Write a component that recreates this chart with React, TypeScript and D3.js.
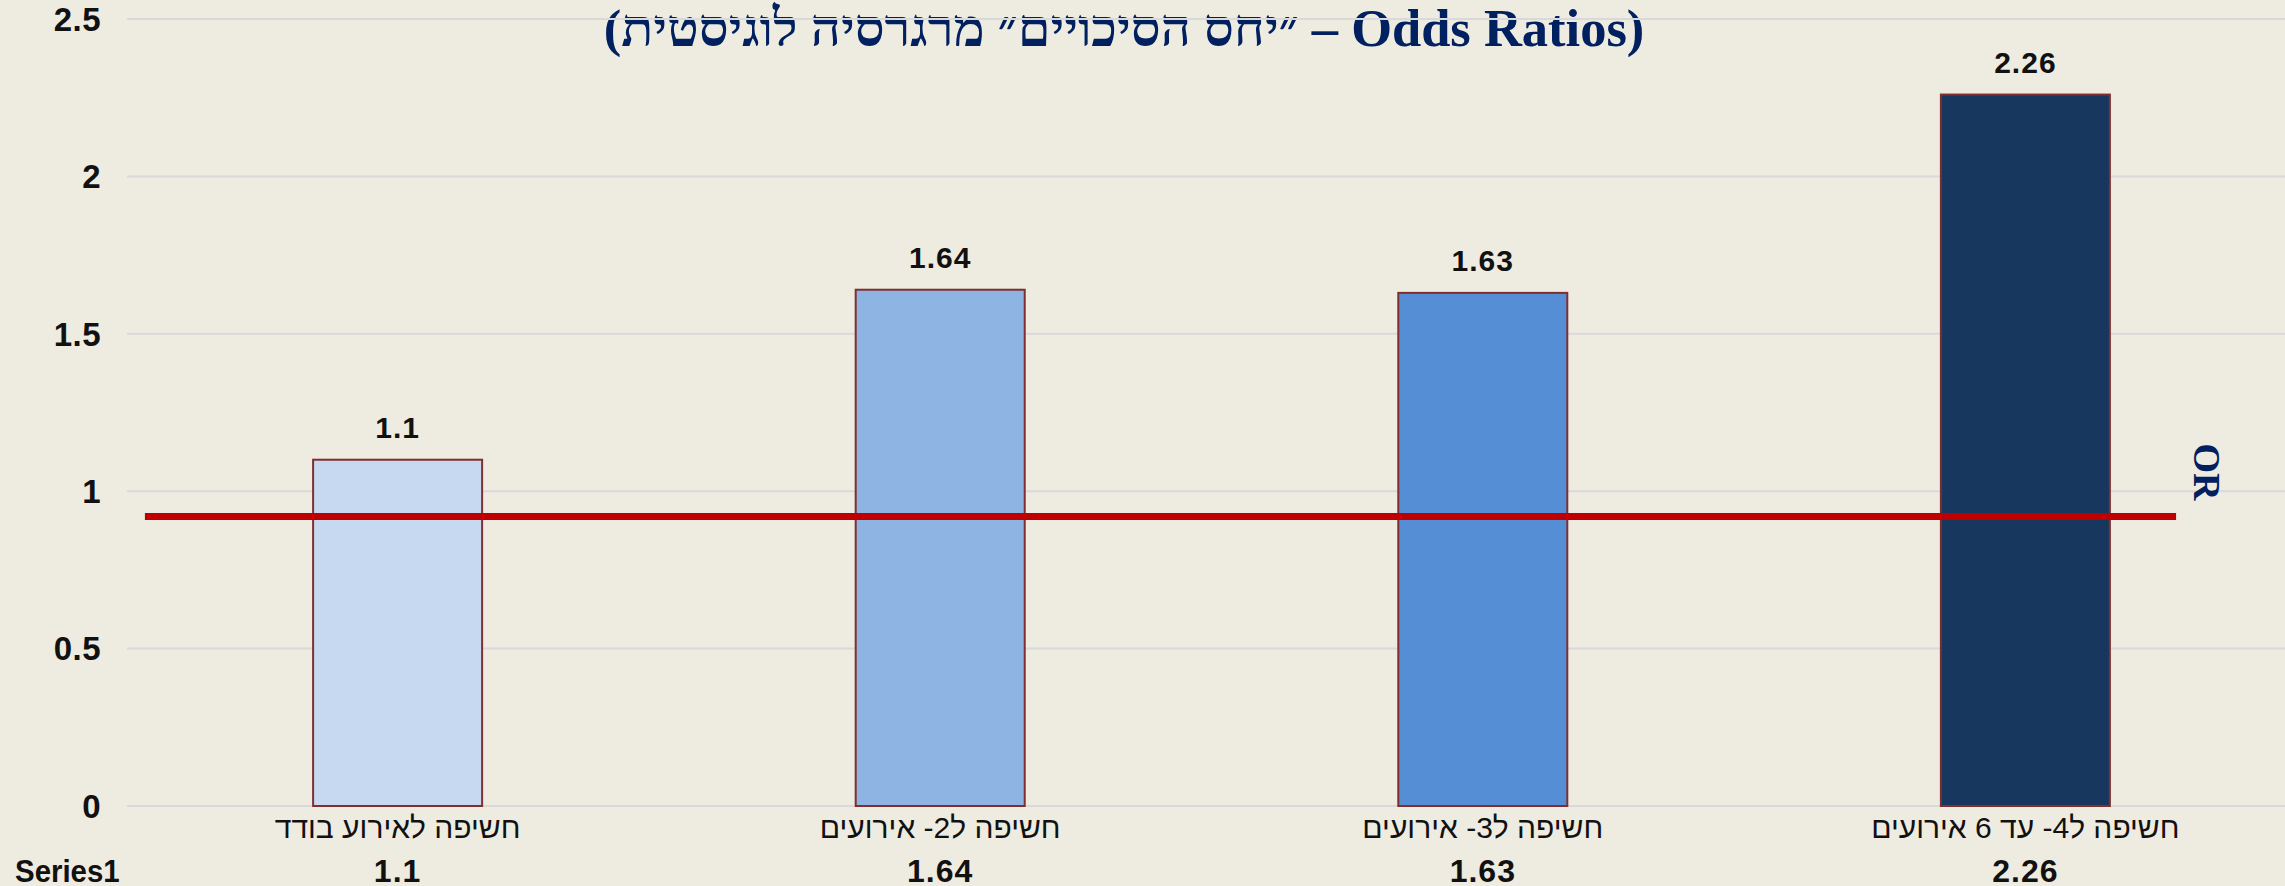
import React from "react";
import * as d3 from "d3";

const categories = [
  "חשיפה לאירוע בודד",
  "חשיפה ל2- אירועים",
  "חשיפה ל3- אירועים",
  "חשיפה ל4- עד 6 אירועים",
];
const values = [1.1, 1.64, 1.63, 2.26];
const barColors = ["#C6D9F1", "#8EB4E3", "#558ED5", "#17375E"];
const yTicks = [0, 0.5, 1, 1.5, 2, 2.5];
const refValue = 0.92;
const seriesName = "Series1";
const titleText = "(״יחס הסיכויים״ מרגרסיה לוגיסטית – Odds Ratios)";
const axisTitle = "OR";

const W = 2285;
const H = 886;
const SANS = "'Liberation Sans', Arial, sans-serif";

export default function App() {
  const y = d3.scaleLinear().domain([0, 2.5]).range([806, 19]);
  const x = d3
    .scaleBand<string>()
    .domain(categories)
    .range([127, 2296])
    .paddingInner(0.6885)
    .paddingOuter(0.343);
  const bw = x.bandwidth();
  const step = x.step();
  const refX1 = (x(categories[0]) as number) - step * 0.31;
  const refX2 = (x(categories[categories.length - 1]) as number) + bw + step * 0.122;

  return (
    <svg
      width={W}
      height={H}
      style={{ position: "absolute", left: 0, top: 0, display: "block", background: "#EEEBE0" }}
    >
      <rect x={0} y={0} width={W} height={H} fill="#EEEBE0" />
      <text
        x={1124}
        y={46}
        textAnchor="middle"
        fontFamily="'Liberation Serif', 'Times New Roman', serif"
        fontWeight="bold"
        fontSize={52.5}
        fill="#002060"
      >
        {titleText}
      </text>
      {yTicks.map((t) => (
        <g key={t}>
          <line x1={x.range()[0]} x2={W} y1={y(t)} y2={y(t)} stroke="#D9D9D9" strokeWidth={2} />
          <text
            x={101}
            y={y(t)}
            dy="0.36em"
            textAnchor="end"
            fontFamily={SANS}
            fontWeight="bold"
            fontSize={33}
            letterSpacing={0.5}
            fill="#111"
          >
            {d3.format("~g")(t)}
          </text>
        </g>
      ))}
      {categories.map((c, i) => {
        const x0 = x(c) as number;
        return (
          <g key={c}>
            <rect
              x={x0}
              y={y(values[i])}
              width={bw}
              height={y(0) - y(values[i])}
              fill={barColors[i]}
              stroke="#7F2F2F"
              strokeWidth={2}
            />
            <text
              x={x0 + bw / 2}
              y={y(values[i]) - 22}
              textAnchor="middle"
              fontFamily={SANS}
              fontWeight="bold"
              fontSize={30}
              letterSpacing={1}
              fill="#111"
            >
              {values[i]}
            </text>
            <text
              x={x0 + bw / 2}
              y={838}
              textAnchor="middle"
              fontFamily={SANS}
              fontSize={30}
              fill="#111"
            >
              {c}
            </text>
            <text
              x={x0 + bw / 2}
              y={882}
              textAnchor="middle"
              fontFamily={SANS}
              fontWeight="bold"
              fontSize={32}
              letterSpacing={1}
              fill="#111"
            >
              {values[i]}
            </text>
          </g>
        );
      })}
      <text
        transform={`translate(15,882) scale(0.92,1)`}
        fontFamily={SANS}
        fontWeight="bold"
        fontSize={32}
        fill="#111"
      >
        {seriesName}
      </text>
      <line x1={refX1} x2={refX2} y1={y(refValue)} y2={y(refValue)} stroke="#C00000" strokeWidth={7} />
      <text
        transform={`translate(${W - 78},${472}) rotate(90)`}
        textAnchor="middle"
        dy="0.35em"
        fontFamily="'Liberation Serif', 'Times New Roman', serif"
        fontWeight="bold"
        fontSize={38}
        fill="#002060"
      >
        {axisTitle}
      </text>
    </svg>
  );
}
